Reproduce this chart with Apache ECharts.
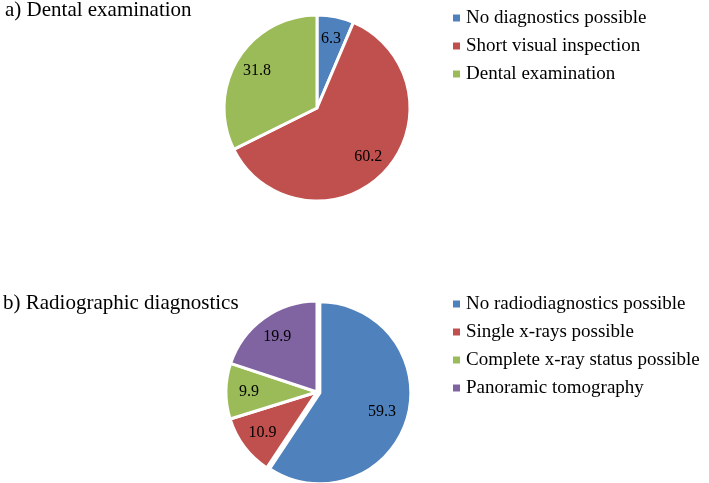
<!DOCTYPE html>
<html>
<head>
<meta charset="utf-8">
<script src="https://cdn.jsdelivr.net/npm/echarts@6/dist/echarts.min.js"></script>
<style>html,body{margin:0;padding:0;background:#fff}#c{width:709px;height:483px}</style>
</head>
<body>
<div id="c"></div>
<script>
var catsA = ['No diagnostics possible', 'Short visual inspection', 'Dental examination'];
var valsA = [6.3, 60.2, 31.8];
var catsB = ['No radiodiagnostics possible', 'Single x-rays possible', 'Complete x-ray status possible', 'Panoramic tomography'];
var valsB = [59.3, 10.9, 9.9, 19.9];
var colorsA = ['#4F81BD', '#C0504D', '#9BBB59'];
var colorsB = ['#4F81BD', '#C0504D', '#9BBB59', '#8064A2'];

var FONT = '"Liberation Serif", "Times New Roman", serif';

function mk(cats, vals, cols, selIdx) {
  return cats.map(function (n, i) {
    return { name: n, value: vals[i], itemStyle: { color: cols[i] }, selected: i === selIdx };
  });
}
function lbl(cats, vals) {
  return vals.map(function (v, i) { return { name: cats[i], value: v, itemStyle: { color: 'rgba(0,0,0,0)' } }; });
}

var chart = echarts.init(document.getElementById('c'));
var labelStyle = { show: true, position: 'inside', formatter: '{c}', color: '#000', fontFamily: FONT, fontSize: 16 };
var legendText = { fontFamily: FONT, fontSize: 19, color: '#000', lineHeight: 20 };
chart.setOption({
  animation: false,
  title: [
    { text: 'a) Dental examination', left: 0, top: -5, textStyle: { fontFamily: FONT, fontSize: 21, fontWeight: 'normal', color: '#000' } },
    { text: 'b) Radiographic diagnostics', left: -2, top: 288, textStyle: { fontFamily: FONT, fontSize: 21, fontWeight: 'normal', color: '#000' } }
  ],
  legend: [
    { data: catsA, orient: 'vertical', left: 446, top: 3, icon: 'rect', itemWidth: 9, itemHeight: 9, itemGap: 8,
      textStyle: legendText, selectedMode: false },
    { data: catsB, orient: 'vertical', left: 446, top: 289, icon: 'rect', itemWidth: 9, itemHeight: 9, itemGap: 8,
      textStyle: legendText, selectedMode: false }
  ],
  series: [
    { type: 'pie', center: [317, 108], radius: 93, startAngle: 90, clockwise: true,
      label: { show: false }, labelLine: { show: false }, silent: true,
      itemStyle: { borderColor: '#fff', borderWidth: 3 },
      data: mk(catsA, valsA, colorsA, -1) },
    { type: 'pie', z: 10, center: [317, 108], radius: [42, 93], startAngle: 90, clockwise: true,
      silent: true, avoidLabelOverlap: false, label: labelStyle, labelLine: { show: false },
      data: lbl(catsA, valsA) },
    { type: 'pie', center: [317, 392], radius: 91, startAngle: 90, clockwise: true,
      selectedMode: 'single', selectedOffset: 3,
      label: { show: false }, labelLine: { show: false }, silent: true,
      itemStyle: { borderColor: '#fff', borderWidth: 3 },
      data: mk(catsB, valsB, colorsB, 0) },
    { type: 'pie', z: 10, center: [317, 392], radius: [38, 92], startAngle: 90, clockwise: true,
      silent: true, avoidLabelOverlap: false, label: labelStyle, labelLine: { show: false },
      data: lbl(catsB, valsB) }
  ]
});
</script>
</body>
</html>
